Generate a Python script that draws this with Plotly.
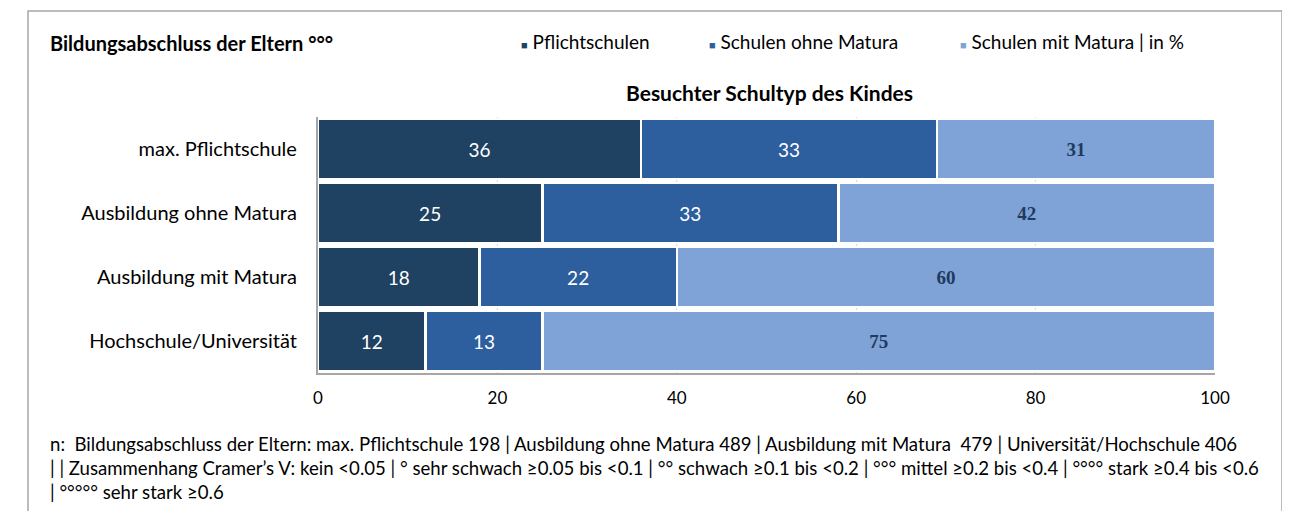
import plotly.graph_objects as go

categories = ["max. Pflichtschule", "Ausbildung ohne Matura", "Ausbildung mit Matura", "Hochschule/Universität"]
pflichtschulen = [36, 25, 18, 12]
ohne_matura = [33, 33, 22, 13]
mit_matura = [31, 42, 60, 75]
series_names = ["Pflichtschulen", "Schulen ohne Matura", "Schulen mit Matura | in %"]
x_ticks = [0, 20, 40, 60, 80, 100]

SANS = "Lato, Carlito, Calibri, sans-serif"
SERIF = "Liberation Serif, DejaVu Serif, serif"
colors = ["#1F4262", "#2D5E9E", "#7FA3D6"]
label_fonts = [
    dict(family=SANS, size=19, color="white"),
    dict(family=SANS, size=19, color="white"),
    dict(family=SERIF, size=19, color="#1F3A5F"),
]
label_fmt = ["%{text}", "%{text}", "<b>%{text}</b>"]

# page has default 8px body margin; figure sized to fit the window exactly
OFF = 8
W, H = 1290 - 2 * OFF, 519 - 2 * OFF
def px(x):
    return (x - OFF) / W
def py(y):
    return 1 - (y - OFF) / H

fig = go.Figure()
for name, vals, col, tf, tt in zip(series_names, [pflichtschulen, ohne_matura, mit_matura], colors, label_fonts, label_fmt):
    fig.add_trace(go.Bar(
        y=categories, x=vals, name=name, orientation="h",
        marker=dict(color=col, line=dict(color="white", width=2.5)),
        text=[str(v) for v in vals], texttemplate=tt, textposition="inside", insidetextanchor="middle",
        textfont=tf, textangle=0, showlegend=False, hoverinfo="x+y+name",
    ))

fig.update_layout(
    width=W, height=H, autosize=False, barmode="stack", bargap=0.07,
    margin=dict(l=0, r=0, t=0, b=0, pad=0, autoexpand=False),
    paper_bgcolor="white", plot_bgcolor="white",
    font=dict(family=SANS, color="#000000"),
    xaxis=dict(domain=[px(318), px(1215)], range=[0, 100], tickvals=x_ticks,
               showgrid=True, gridcolor="#D9D9D9", gridwidth=1, zeroline=False,
               showline=True, linecolor="#A6A6A6", linewidth=1.5, automargin=False,
               tickfont=dict(size=17, family=SANS), ticks="", ticklen=0, ticklabelstandoff=9),
    yaxis=dict(domain=[py(373), py(117)], autorange="reversed", showgrid=False,
               showline=True, linecolor="#A6A6A6", linewidth=1.5, ticks="", automargin=False,
               ticksuffix="   ", tickfont=dict(size=20, family=SANS)),
)

# frame (open at the bottom, continues past the picture)
fig.add_shape(type="rect", xref="paper", yref="paper", x0=px(28), x1=px(1282), y0=-0.05, y1=py(11),
              line=dict(color="#A6A6A6", width=1.5), fillcolor="rgba(0,0,0,0)", layer="below")

# title
fig.add_annotation(xref="paper", yref="paper", x=px(48), y=py(43), xanchor="left", yanchor="middle",
                   text="<b>Bildungsabschluss der Eltern °°°</b>", showarrow=False,
                   font=dict(size=20, family=SANS))
# legend
leg_x = [519, 707, 958]
for lx, name, col in zip(leg_x, series_names, colors):
    fig.add_annotation(xref="paper", yref="paper", x=px(lx), y=py(42), xanchor="left", yanchor="middle",
                       text=f"<span style='color:{col}; font-size:11px'>■</span> {name}", showarrow=False,
                       font=dict(size=19, family=SANS))
# subtitle
fig.add_annotation(xref="paper", yref="paper", x=px(769), y=py(92), xanchor="center", yanchor="middle",
                   text="<b>Besuchter Schultyp des Kindes</b>", showarrow=False,
                   font=dict(size=21, family=SANS))
# footnote
foot = ["n:  Bildungsabschluss der Eltern: max. Pflichtschule 198 | Ausbildung ohne Matura 489 | Ausbildung mit Matura  479 | Universität/Hochschule 406",
        "| | Zusammenhang Cramer’s V: kein <0.05 | ° sehr schwach ≥0.05 bis <0.1 | °° schwach ≥0.1 bis <0.2 | °°° mittel ≥0.2 bis <0.4 | °°°° stark ≥0.4 bis <0.6",
        "| °°°°° sehr stark ≥0.6"]
for i, line in enumerate(foot):
    fig.add_annotation(xref="paper", yref="paper", x=px(48), y=py(444 + 24 * i), xanchor="left", yanchor="middle",
                       text=line, showarrow=False,
                       font=dict(size=18.6, family=SANS))

fig.write_html("out.html", config={"displayModeBar": False, "responsive": False})
